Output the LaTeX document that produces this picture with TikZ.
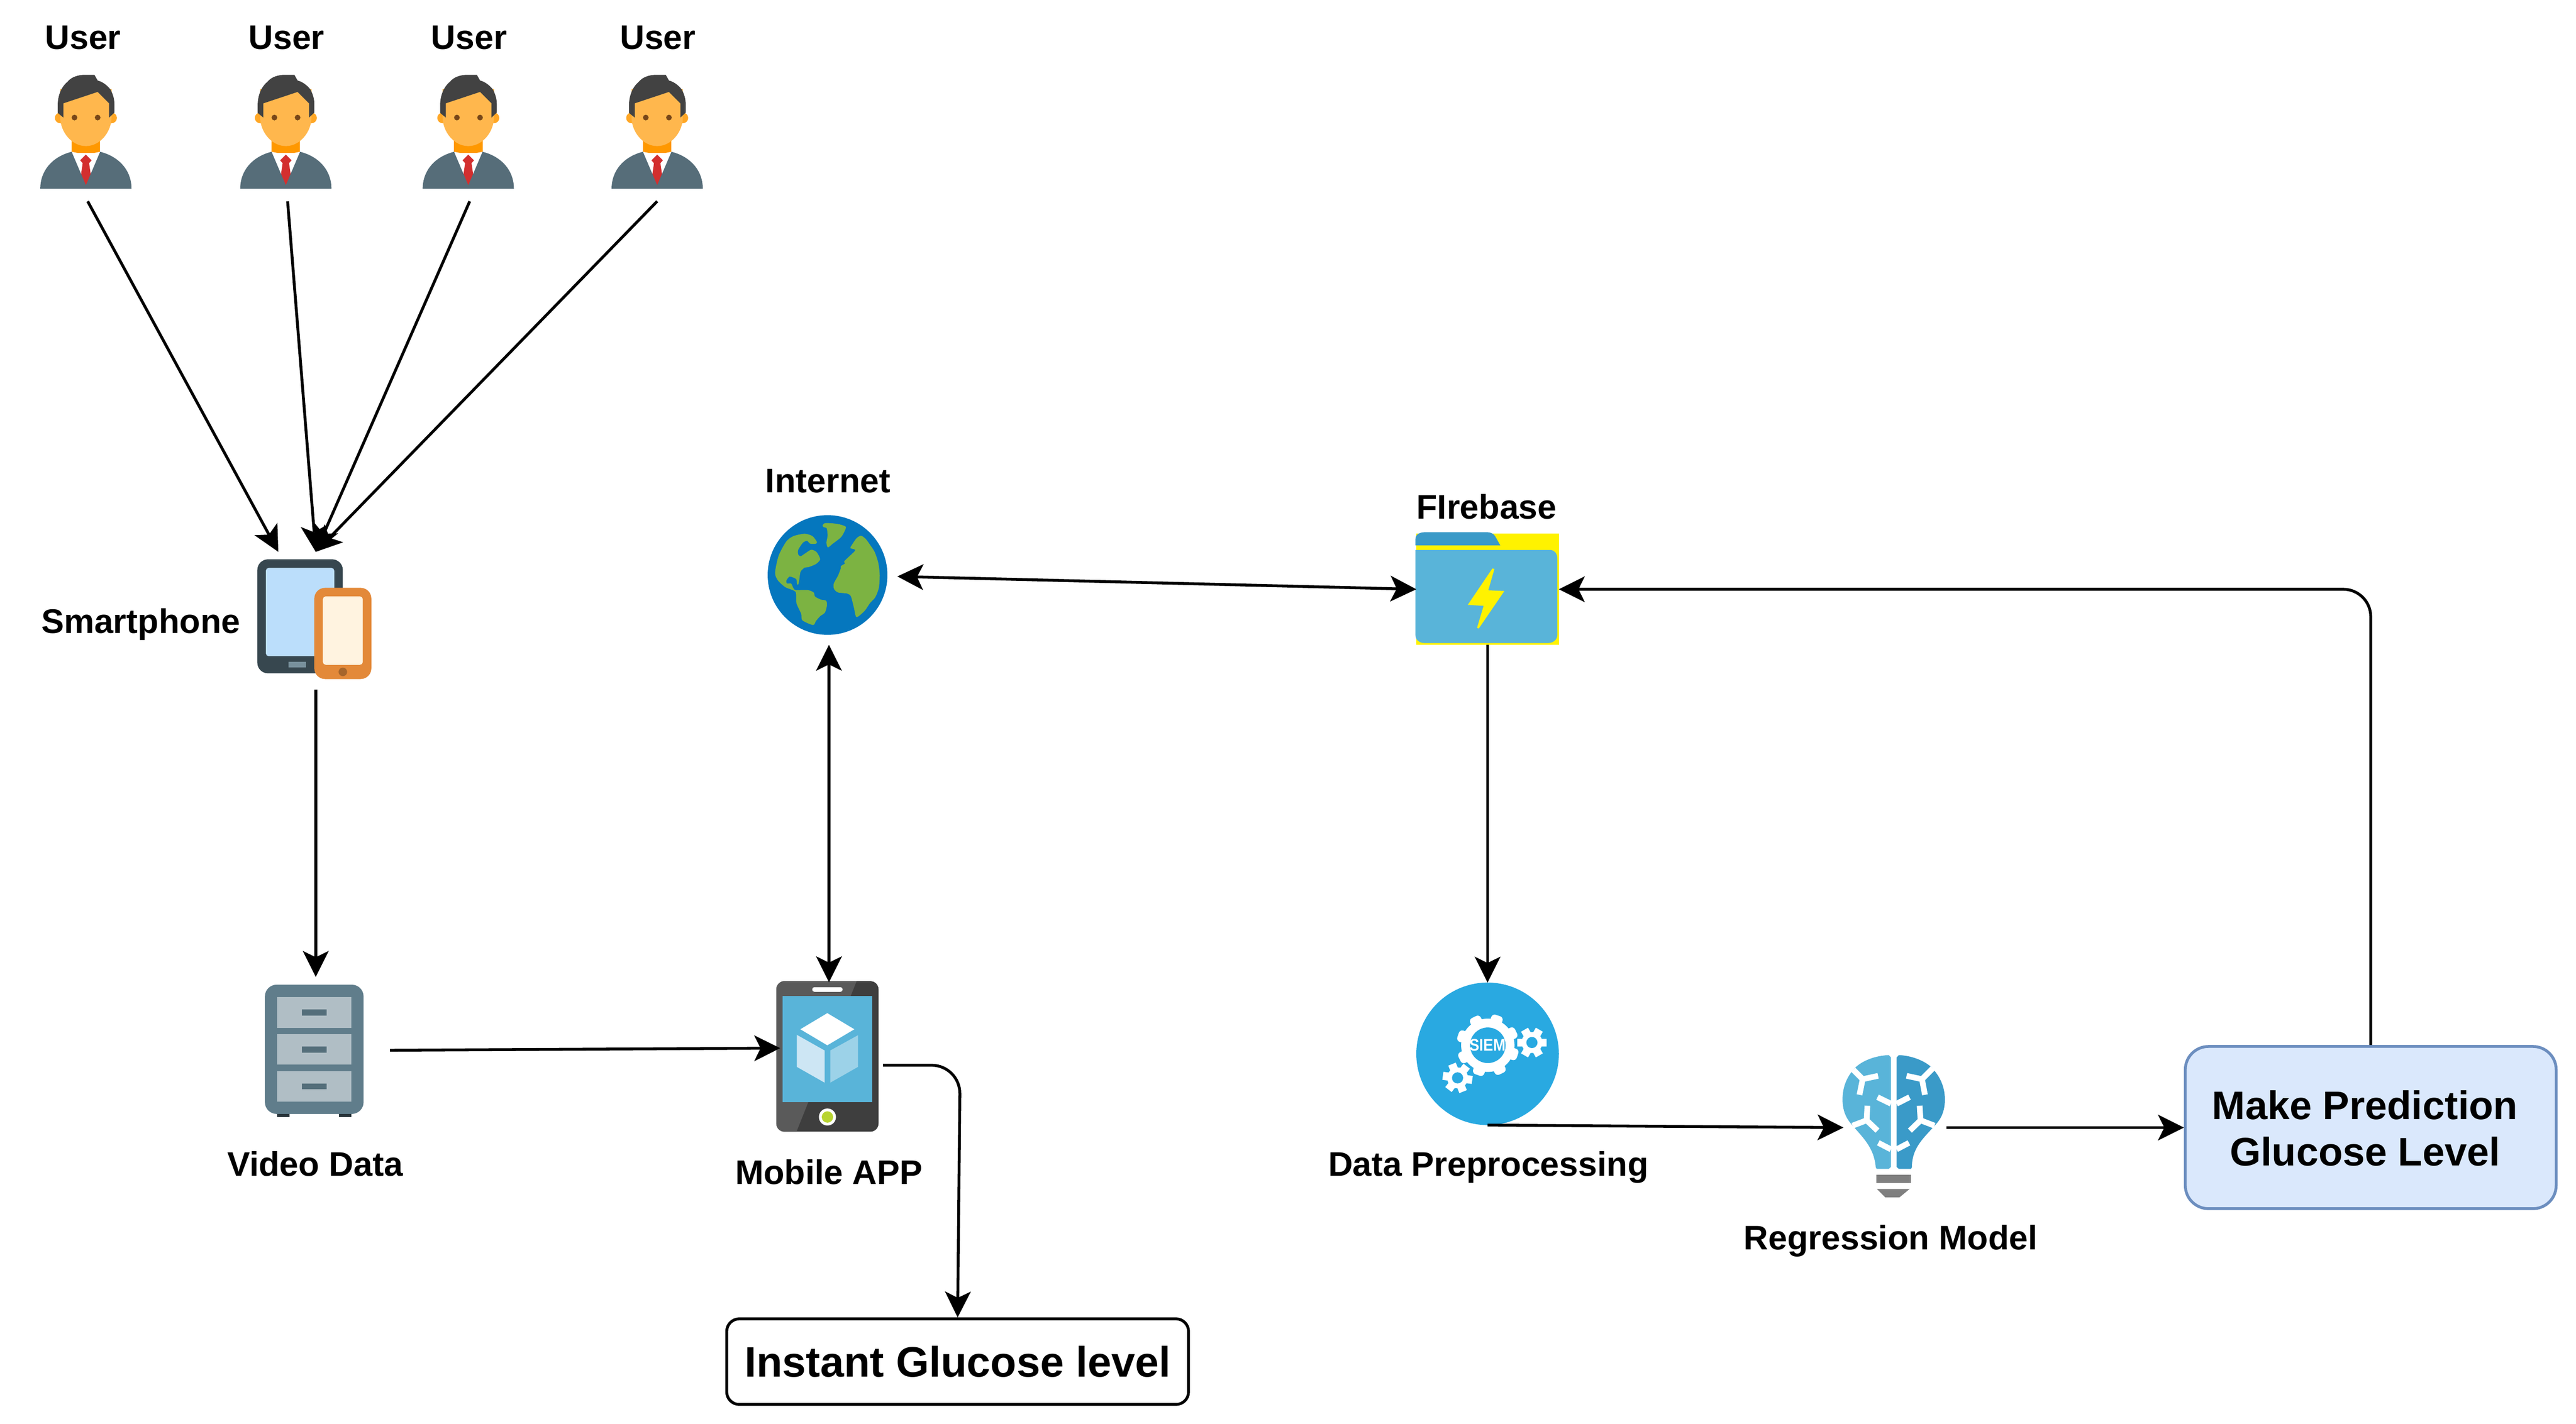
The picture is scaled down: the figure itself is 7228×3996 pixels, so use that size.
\documentclass[tikz,border=0pt]{standalone}
\usepackage{fontspec}
\setmainfont{Liberation Sans}
\usetikzlibrary{arrows.meta}
\definecolor{hair}{HTML}{424242}
\definecolor{skin}{HTML}{FFB74D}
\definecolor{ear}{HTML}{FFA726}
\definecolor{neck}{HTML}{FF9800}
\definecolor{eye}{HTML}{784719}
\definecolor{jacket}{HTML}{566D79}
\definecolor{tie}{HTML}{D32F2F}
\definecolor{azure}{HTML}{59B4D9}
\definecolor{azuredark}{HTML}{3A9AC8}
\definecolor{slate}{HTML}{37474F}
\definecolor{tabscreen}{HTML}{BBDEFB}
\definecolor{tabkey}{HTML}{78909C}
\definecolor{orangebody}{HTML}{E38939}
\definecolor{orangescreen}{HTML}{FFF3E0}
\definecolor{orangekey}{HTML}{A6652B}
\definecolor{cabinet}{HTML}{607D8B}
\definecolor{drawer}{HTML}{B0BEC5}
\definecolor{handle}{HTML}{546E7A}
\definecolor{foot}{HTML}{263238}
\definecolor{sea}{HTML}{0577BE}
\definecolor{land}{HTML}{7CB342}
\definecolor{appdark}{HTML}{3E3E3E}
\definecolor{applight}{HTML}{5A5A5A}
\definecolor{cubeleft}{HTML}{CDE6F4}
\definecolor{cuberight}{HTML}{9CD2E8}
\definecolor{appkey}{HTML}{B8D432}
\definecolor{siemblue}{HTML}{29A9E1}
\definecolor{bulbbase}{HTML}{7F7F7F}
\definecolor{predfill}{HTML}{DAE8FC}
\definecolor{predline}{HTML}{6C8EBF}
\tikzset{
  conn/.style={line width=0.08cm,-{Stealth[length=0.73cm,width=0.73cm,inset=0.18cm,line width=0pt]}},
  connboth/.style={conn,{Stealth[length=0.73cm,width=0.73cm,inset=0.18cm,line width=0pt]}-{Stealth[length=0.73cm,width=0.73cm,inset=0.18cm,line width=0pt]}},
  port/.style 2 args={inner sep=0pt,outer sep=0pt,minimum width=#1*0.01cm,minimum height=#2*0.01cm},
  lbl/.style={anchor=base,inner sep=0pt,font=\bfseries\fontsize{27.2}{32}\selectfont},
  zoomed/.style={x=0.00333cm,y=-0.00333cm},
  pics/usericon/.style={code={
    % origin is the middle of the figure
    \fill[ear] (-72,-39) ellipse (15 and 15);
    \fill[ear] (72,-39) ellipse (15 and 15);
    \fill[neck] (-40,10) rectangle (40,60);
    \fill[skin] (-72,-120) -- (72,-120) -- (72,-41) .. controls (72,0) and (40,40) .. (0,40) .. controls (-40,40) and (-72,0) .. (-72,-41) -- cycle;
    \fill[hair] (-79,-53) -- (-79,-75) .. controls (-79,-100) and (-70,-125) .. (-52,-140) .. controls (-40,-155) and (-20,-160) .. (-2,-160) -- (24,-160) -- (33,-144) .. controls (50,-140) and (65,-125) .. (70,-117) .. controls (78,-100) and (80,-90) .. (80,-75) -- (80,-54) -- (65,-40) -- (65,-80) -- (33,-112) -- (-63,-80) -- (-63,-40) -- cycle;
    \fill[eye] (-32,-40) ellipse (8 and 8);
    \fill[eye] (33,-40) ellipse (8 and 8);
    \fill[white] (-40,56) -- (0,64) -- (40,56) -- (14,150) -- (-14,150) -- cycle;
    \fill[tie] (0,64) -- (16,80) -- (9,88) -- (14,122) -- (0,151) -- (-14,122) -- (-9,88) -- (-16,80) -- cycle;
    \fill[jacket] (-128,160) .. controls (-128,110) and (-95,70) .. (-40,56) -- (0,150) -- (40,56) .. controls (95,70) and (128,110) .. (128,160) -- cycle;
  }},
}
\begin{document}
\begin{tikzpicture}[x=0.01cm,y=-0.01cm]
\useasboundingbox (0,0) rectangle (7228,3996);

% nodes that the connectors end on
\foreach \n/\x in {1/246,2/807,3/1318,4/1844}{
  \node[port={256}{710}] (user\n) at (\x,210) {};
}
\node[port={210}{386}] (phone) at (886,1742) {};
\node[port={416}{412}] (video) at (886,2948) {};
\node[port={384}{384}] (net) at (2326,1618) {};
\node[port={274}{370}] (app) at (2326,2942) {};
\node[port={400}{312}] (fire) at (4174,1654) {};
\node[port={400}{400}] (prep) at (4174,2958) {};
\node[port={289}{400}] (bulb) at (5317,3165) {};

% users
\foreach \ux/\lx/\t in {241/233/1,802/804/2,1314/1316/3,1844/1846/4}{
  \pic at (\ux,370) {usericon};
  \node[lbl] (userlbl\t) at (\lx,138) {User};
}

% smartphone
\fill[slate,rounded corners=0.3cm] (722,1570) rectangle (962,1890);
\fill[tabscreen,rounded corners=0.08cm] (746,1594) rectangle (938,1842);
\fill[tabkey] (810,1858) rectangle (858,1874);
\fill[orangebody,rounded corners=0.3cm] (882,1650) rectangle (1042,1906);
\fill[orangescreen,rounded corners=0.08cm] (906,1674) rectangle (1018,1866);
\fill[orangekey] (962,1886) circle (12);
\node[lbl] (phonelbl) at (395,1778) {Smartphone};

% video data
\begin{scope}[shift={(700,2720)},zoomed]
\fill[cabinet,rounded corners=0.33cm] (130,132) rectangle (962,1222);
\fill[foot] (234,1222) rectangle (338,1250);
\fill[foot] (754,1222) rectangle (858,1250);
\foreach \top/\bot in {236/495,548/807,860/1120}{
  \fill[drawer] (234,\top) rectangle (858,\bot);
}
\foreach \top in {340,652,964}{
  \fill[handle] (442,\top) rectangle (650,\top+52);
}
\end{scope}
\node[lbl] (videolbl) at (884,3301) {Video Data};

% internet
\fill[sea] (2322,1614) circle (168);
\begin{scope}[shift={(2050,1400)},zoomed]
\fill[land] plot[smooth cycle,tension=0.45] coordinates {(375,625)(405,480)(470,360)(530,315)(625,295)(690,315)(728,365)(715,380)(670,378)(645,355)(610,370)(570,430)(570,470)(590,485)(630,460)(680,430)(725,450)(755,510)(720,550)(655,577)(625,580)(590,615)(578,690)(570,723)(560,720)(555,680)(530,665)(495,657)(470,690)(475,715)(510,715)(530,755)(550,770)(650,770)(700,790)(712,825)(760,850)(805,860)(812,900)(795,960)(755,990)(720,1030)(695,1065)(605,1025)(595,970)(555,880)(550,790)(510,765)(460,745)(400,690)};
\fill[land] plot[smooth cycle,tension=0.45] coordinates {(775,225)(800,205)(900,212)(970,235)(960,275)(930,325)(860,380)(820,410)(808,370)(818,310)(810,248)(785,240)};
\fill[land] plot[smooth cycle,tension=0.45] coordinates {(1010,410)(1060,335)(1100,312)(1140,340)(1180,395)(1215,450)(1245,540)(1257,640)(1250,750)(1220,830)(1175,880)(1130,945)(1062,998)(1040,920)(1015,825)(985,800)(905,790)(872,760)(870,715)(905,650)(928,590)(930,568)(965,545)(960,525)(1050,437)(1020,420)};
\end{scope}
\node[lbl] (netlbl) at (2323,1383) {Internet};

% mobile app
\begin{scope}[shift={(2120,2720)},zoomed]
\fill[appdark,rounded corners=0.23cm] (175,102) rectangle (1037,1372);
\begin{scope}
\clip[rounded corners=0.23cm] (175,102) rectangle (1037,1372);
\fill[applight] (175,102) -- (852,102) -- (345,1372) -- (175,1372) -- cycle;
\end{scope}
\fill[white,rounded corners=0.06cm] (478,153) rectangle (734,192);
\fill[azure] (230,229) rectangle (982,1124);
\fill[white] (605,372) -- (833,508) -- (605,643) -- (378,508) -- cycle;
\fill[cubeleft] (348,555) -- (582,687) -- (582,958) -- (348,825) -- cycle;
\fill[cuberight] (630,687) -- (864,558) -- (864,825) -- (630,958) -- cycle;
\fill[white] (606,1248) circle (72);
\fill[appkey] (606,1248) circle (48);
\end{scope}
\node[lbl] (applbl) at (2326,3324) {Mobile APP};

% firebase, this crop of the folder is wider than tall
\fill[yellow] (3974,1498) rectangle (4374,1810);
\begin{scope}[shift={(3900,1400)},x=0.00383cm,y=-0.00333cm]
\fill[azuredark] (187,393) -- (187,340) .. controls (187,300) and (220,282) .. (255,282) -- (710,282) .. controls (745,282) and (760,300) .. (770,315) -- (808,393) -- cycle;
\fill[azure] (187,432) -- (1180,432) .. controls (1210,440) and (1225,465) .. (1225,500) -- (1225,1150) .. controls (1225,1190) and (1195,1217) .. (1155,1217) -- (255,1217) .. controls (215,1217) and (187,1190) .. (187,1150) -- cycle;
\fill[yellow] (750,588) -- (765,592) -- (720,772) -- (838,778) -- (650,1095) -- (638,1088) -- (686,903) -- (570,895) -- cycle;
\end{scope}
\node[lbl] (firelbl) at (4171,1457) {FIrebase};

% data preprocessing
\fill[siemblue] (4174,2958) circle (200);
\begin{scope}[shift={(3940,2720)},zoomed]
\fill[white] (705,643) circle (225);
\foreach \a in {26,71,116,161,206,251,296,341}{
  \fill[white,shift={(705,643)},rotate=\a,rounded corners=0.1cm] (190,-50) -- (265,-50) -- (265,50) -- (190,50) -- cycle;
}
\fill[siemblue] (705,643) circle (150);
\foreach \cx/\cy/\off in {1077/620/0,450/918/-8}{
  \fill[white] (\cx,\cy) circle (88);
  \foreach \a in {0,60,120,180,240,300}{
    \fill[white,shift={(\cx,\cy)},rotate=\off+\a] (70,-34) -- (125,-34) -- (125,34) -- (70,34) -- cycle;
  }
  \fill[siemblue] (\cx,\cy) circle (47);
}
\node[inner sep=0pt,text=white,xscale=0.88,font=\bfseries\fontsize{13.4}{16}\selectfont] (siem) at (702,642) {SIEM};
\end{scope}
\node[lbl] (preplbl) at (4176,3301) {Data Preprocessing};

% regression model
\begin{scope}[shift={(5100,2900)},zoomed]
\fill[azure] (600,185) .. controls (480,190) and (375,235) .. (318,290) .. controls (250,360) and (210,450) .. (210,560) .. controls (210,650) and (240,715) .. (280,762) .. controls (380,880) and (475,960) .. (490,1130) -- (498,1145) -- (600,1145) -- (618,1128) -- (618,205) -- cycle;
\fill[azuredark] (685,185) .. controls (800,190) and (900,235) .. (955,283) .. controls (1030,360) and (1073,450) .. (1073,560) .. controls (1073,650) and (1045,715) .. (1003,762) .. controls (900,880) and (795,960) .. (795,1130) -- (788,1145) -- (685,1145) -- (666,1128) -- (666,205) -- cycle;
\begin{scope}[white,line width=0.16cm]
\draw (300,308) -- (380,388) -- (510,360);
\draw (380,388) -- (353,520);
\draw (505,540) -- (618,595);
\draw (420,612) -- (413,735) -- (295,780);
\draw (413,735) -- (505,822);
\draw (512,925) -- (618,980);
\draw (970,298) -- (880,388) -- (750,360);
\draw (880,388) -- (905,520);
\draw (775,540) -- (666,595);
\draw (860,612) -- (868,735) -- (985,780);
\draw (868,735) -- (778,822);
\draw (770,925) -- (666,980);
\end{scope}
\fill[bulbbase] (497,1193) rectangle (786,1265);
\fill[bulbbase] (500,1314) -- (776,1314) -- (690,1385) -- (570,1385) -- cycle;
\end{scope}
\node[lbl] (bulblbl) at (5305,3508) {Regression Model};

% result boxes
\node[draw=black,line width=0.08cm,rounded corners=0.35cm,minimum width=12.95cm,minimum height=2.4cm,font=\bfseries\fontsize{34}{40}\selectfont] (result) at (2687,3822) {Instant Glucose level};
\node[draw=predline,fill=predfill,line width=0.08cm,rounded corners=0.65cm,minimum width=10.4cm,minimum height=4.55cm,align=center,font=\bfseries\fontsize{31.8}{36.9}\selectfont] (predict) at (6652,3165) {\rule{0pt}{0.85cm}Make Prediction\hspace*{0.32cm}\\Glucose Level\hspace*{0.32cm}};

% connectors
\foreach \n in {2,3,4}{
  \draw[conn] (user\n.south) -- (phone.north);
}
\draw[conn] (user1.south) -- (phone.north west);
\draw[conn] (phone.south) -- (video.north);
\draw[conn] (video.east) -- (app.west);
\draw[connboth] (net.south) -- (app.north);
\draw[connboth] (net.east) -- (fire.west);
\coordinate (appout) at (2478,2990);
\coordinate (appbend) at (2694,2990);
\draw[conn,rounded corners=0.8cm] (appout) -- (appbend) -- (result.north);
\draw[conn] (fire.south) -- (prep.north);
\draw[conn] (prep.south) -- (bulb.west);
\draw[conn] (bulb.east) -- (predict.west);
\draw[conn,rounded corners=0.77cm] (predict.north) |- (fire.east);
\end{tikzpicture}
\end{document}
